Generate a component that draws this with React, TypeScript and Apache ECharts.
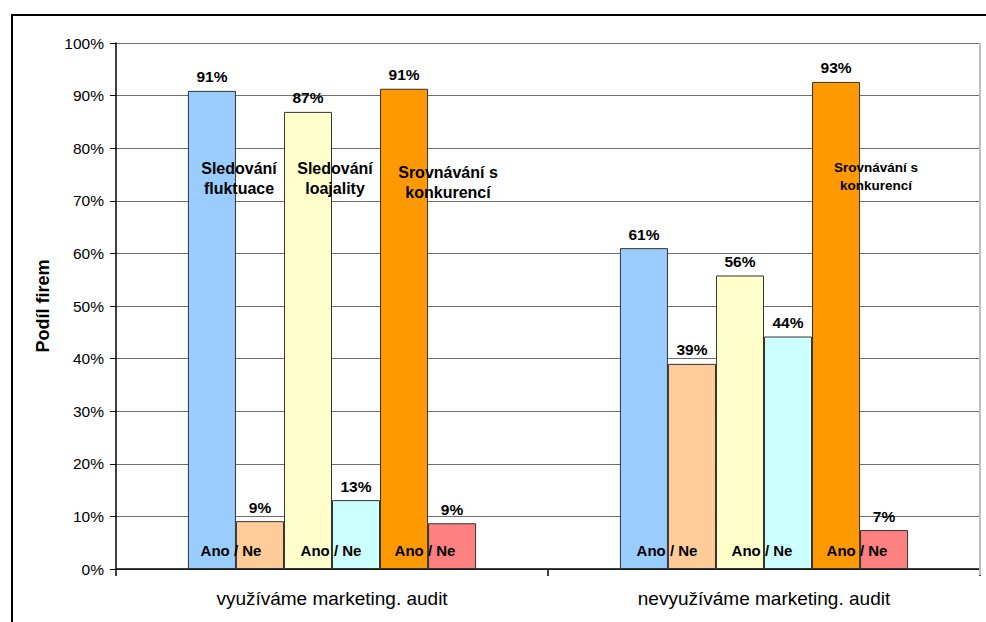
import React, { useEffect, useRef } from "react";
import * as echarts from "echarts";

const categories = ["využíváme marketing. audit", "nevyužíváme marketing. audit"];
const seriesNames = [
  "Sledování fluktuace – Ano",
  "Sledování fluktuace – Ne",
  "Sledování loajality – Ano",
  "Sledování loajality – Ne",
  "Srovnávání s konkurencí – Ano",
  "Srovnávání s konkurencí – Ne",
];
const fluktuaceAno = [90.9, 61.0];
const fluktuaceNe = [9.1, 39.0];
const loajalitaAno = [86.9, 55.8];
const loajalitaNe = [13.1, 44.2];
const konkurenceAno = [91.3, 92.6];
const konkurenceNe = [8.7, 7.4];
const seriesValues = [fluktuaceAno, fluktuaceNe, loajalitaAno, loajalitaNe, konkurenceAno, konkurenceNe];
const colors = ["#99CCFF", "#FFCC99", "#FFFFCC", "#CCFFFF", "#FF9900", "#FF8080"];

const FONT = "Arial, 'Liberation Sans', sans-serif";

export default function App() {
  const ref = useRef<HTMLDivElement>(null);
  useEffect(() => {
    document.body.style.margin = "0";
    const chart = echarts.init(ref.current!, null, { renderer: "svg" });
    const txt = (text: string, x: number, y: number, size = 16, lh = 20) => ({
      type: "text",
      x,
      y,
      z: 100,
      style: {
        text,
        fill: "#000",
        font: `bold ${size}px ${FONT}`,
        align: "center",
        verticalAlign: "middle",
        lineHeight: lh,
      },
    });
    chart.setOption({
      animation: false,
      backgroundColor: "#fff",
      grid: { left: 116, right: 6, top: 43, bottom: 53, containLabel: false },
      xAxis: {
        type: "category",
        data: categories,
        axisLine: { lineStyle: { color: "#000", width: 1.5 } },
        axisTick: { show: true, length: 7, lineStyle: { color: "#000", width: 1.5 } },
        axisLabel: { color: "#000", fontFamily: FONT, fontSize: 19, margin: 20 },
      },
      yAxis: {
        type: "value",
        min: 0,
        max: 100,
        interval: 10,
        name: "Podíl firem",
        nameLocation: "middle",
        nameGap: 64,
        nameTextStyle: { color: "#000", fontFamily: FONT, fontSize: 18, fontWeight: "bold" },
        axisLine: { show: true, lineStyle: { color: "#000", width: 1.5 } },
        axisTick: { show: true, length: 6, lineStyle: { color: "#000" } },
        axisLabel: { color: "#000", fontFamily: FONT, fontSize: 15.5, margin: 12, formatter: "{value}%" },
        splitLine: { lineStyle: { color: "#6e6e6e", width: 1 } },
      },
      series: seriesValues.map((vals, i) => ({
        name: seriesNames[i],
        type: "bar",
        data: vals,
        barGap: "0%",
        barCategoryGap: "33.3%",
        itemStyle: { color: colors[i], borderColor: "#333", borderWidth: 1 },
        label: {
          show: true,
          position: "top",
          distance: 6,
          color: "#000",
          fontFamily: FONT,
          fontSize: 15.5,
          fontWeight: "bold",
          formatter: (p: any) => Math.round(p.value) + "%",
        },
      })),
      graphic: [
        {
          type: "rect",
          shape: { x: 12, y: 15, width: 1000, height: 700 },
          style: { fill: "none", stroke: "#000", lineWidth: 2 },
          z: 100,
        },
        {
          type: "line",
          shape: { x1: 980, y1: 43, x2: 980, y2: 575 },
          style: { stroke: "#c0c0c0", lineWidth: 2 },
          z: 50,
        },
        txt("Sledování\nfluktuace", 239, 178),
        txt("Sledování\nloajality", 335, 178),
        txt("Srovnávání s\nkonkurencí", 448, 182),
        txt("Srovnávání s\nkonkurencí", 876, 176, 13.5, 18),
        txt("Ano / Ne", 231, 550, 15),
        txt("Ano / Ne", 331, 550, 15),
        txt("Ano / Ne", 425, 550, 15),
        txt("Ano / Ne", 667, 550, 15),
        txt("Ano / Ne", 762, 550, 15),
        txt("Ano / Ne", 857, 550, 15),
      ],
    });
    return () => chart.dispose();
  }, []);
  return <div ref={ref} style={{ width: 986, height: 622 }} />;
}
